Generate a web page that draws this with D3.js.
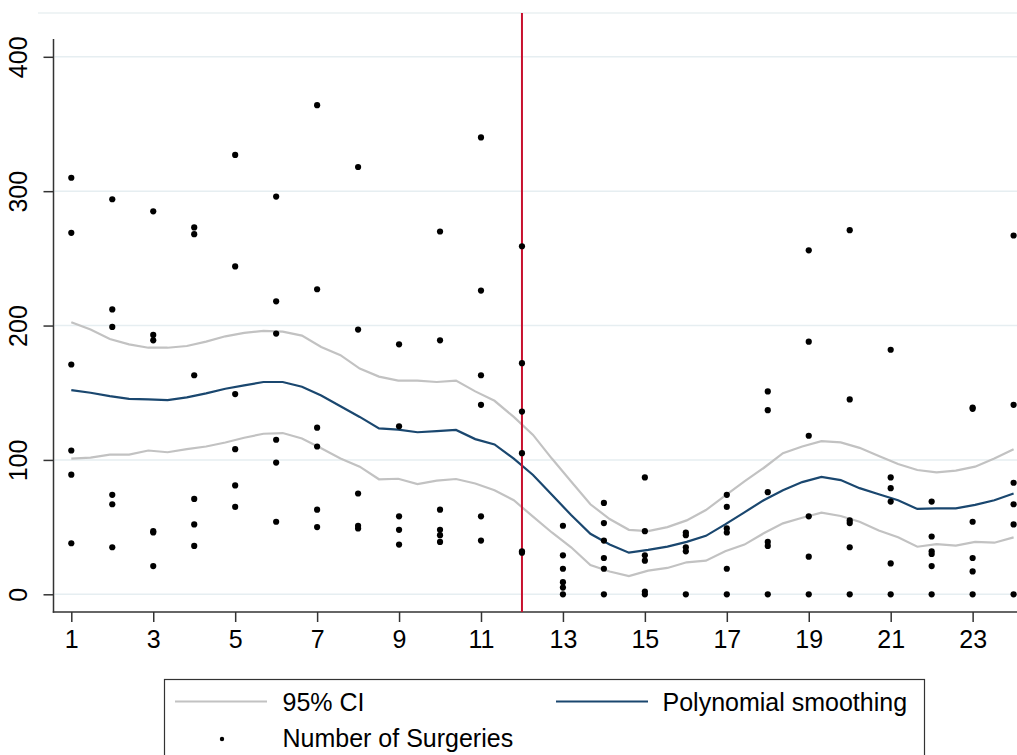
<!DOCTYPE html>
<html lang="en">
  <head>
    <meta charset="UTF-8" />
    <script src="https://d3js.org/d3.v7.min.js"></script>
    <style>
      body { margin: 0; background: #fff; }
      text { font-family: "Liberation Sans", Arial, sans-serif; fill: #000; }
    </style>
  </head>
  <body>
    <svg id="chart" width="1017" height="755"></svg>
    <script>
      // hours on the x axis and the observed counts at each of them
      const hours = [1, 2, 3, 4, 5, 6, 7, 8, 9, 10, 11, 12, 13, 14, 15, 16, 17, 18, 19, 20, 21, 22, 23, 24];
      const surgeries = [
        [310, 269, 171, 107, 89, 38],
        [294, 212, 199, 74, 67, 35],
        [285, 193, 189, 47, 46, 21],
        [273, 268, 163, 71, 52, 36],
        [327, 244, 149, 108, 81, 65],
        [296, 218, 194, 115, 98, 54],
        [364, 227, 124, 110, 63, 50],
        [318, 197, 75, 51, 49],
        [186, 125, 58, 48, 37],
        [270, 189, 63, 48, 44, 39],
        [340, 226, 163, 141, 58, 40],
        [259, 172, 136, 105, 32, 31],
        [51, 29, 19, 9, 5, 0],
        [68, 53, 40, 27, 19, 0],
        [87, 47, 29, 25, 2, 0],
        [46, 44, 35, 32, 0],
        [74, 65, 49, 46, 19, 0],
        [151, 137, 76, 39, 36, 0],
        [256, 188, 118, 58, 28, 0],
        [271, 145, 55, 53, 35, 0],
        [182, 87, 79, 69, 23, 0],
        [69, 43, 32, 30, 21, 0],
        [139, 138, 54, 27, 17, 0],
        [267, 141, 83, 67, 52, 0]
      ];

      // evaluation grid of the smoother and its fit / confidence band
      const gridX = [1.00, 1.47, 1.94, 2.41, 2.88, 3.35, 3.82, 4.29, 4.76, 5.22,
        5.69, 6.16, 6.63, 7.10, 7.57, 8.04, 8.51, 8.98, 9.45, 9.92,
        10.39, 10.86, 11.33, 11.80, 12.27, 12.73, 13.20, 13.67, 14.14, 14.61,
        15.08, 15.55, 16.02, 16.49, 16.96, 17.43, 17.90, 18.37, 18.84, 19.31,
        19.78, 20.24, 20.71, 21.18, 21.65, 22.12, 22.59, 23.06, 23.53, 24.00];
      const smooth = [152, 150, 147.5, 145.5, 145, 144.5, 146.5, 149.5, 153, 155.5,
        158, 158, 154.5, 148, 140, 132, 123.5, 122.5, 120.6, 121.5,
        122.3, 115.5, 111.5, 101, 88.8, 74, 59, 45, 37, 31,
        33, 35.5, 39, 43.5, 52, 61, 70, 77.5, 83.5, 87.3,
        85, 79, 74.5, 70, 63.5, 64, 64, 66.5, 70, 75];
      const ciUpper = [202.5, 197, 190, 186, 183.5, 183.5, 184.8, 188, 192, 194.5,
        196, 195.5, 192.5, 184, 178, 168, 162, 159, 159, 158,
        159, 151, 144, 132, 118.6, 101, 84, 67, 56, 48,
        47, 50, 55, 62.7, 73.5, 84, 94, 105, 110, 114,
        113, 109, 103, 97, 92.5, 90.8, 92, 95, 101, 108];
      const ciLower = [101, 101.7, 104, 104, 107, 105.7, 108, 110, 113, 116.5,
        119.5, 120, 116, 108.7, 101, 95, 85.6, 86, 82, 84.6,
        85.8, 82.5, 77.5, 70, 57.8, 46, 35, 21.8, 17, 13.6,
        17.6, 19.6, 23.8, 25, 32, 37, 45.4, 52.8, 57, 60.7,
        58.3, 54, 47.5, 42.4, 35.4, 37.4, 36.2, 39, 38.4, 42.4];

      const xTicks = [1, 3, 5, 7, 9, 11, 13, 15, 17, 19, 21, 23];
      const yTicks = [0, 100, 200, 300, 400];
      const cutoff = 12;

      const svg = d3.select("#chart");
      const width = +svg.attr("width");

      const x = d3.scaleLinear().domain([1, 24]).range([71.3, 1013.6]);
      const y = d3.scaleLinear().domain([0, 400]).range([594.3, 56.8]);

      const axisX = 53.5, axisY = 612;

      // faint top border of the plot region
      svg.append("line")
        .attr("x1", 38).attr("x2", width)
        .attr("y1", 13).attr("y2", 13)
        .attr("stroke", "#eaf0f2").attr("stroke-width", 1.5);

      // gridlines
      svg.append("g")
        .selectAll("line")
        .data(yTicks)
        .join("line")
        .attr("x1", axisX + 1).attr("x2", width)
        .attr("y1", d => y(d)).attr("y2", d => y(d))
        .attr("stroke", "#e6eef1").attr("stroke-width", 1.6);

      // y axis
      const yAxis = svg.append("g")
        .attr("transform", `translate(${axisX},0)`)
        .call(d3.axisLeft(y).tickValues(yTicks).tickSize(10).tickPadding(0).tickFormat(d3.format("d")));
      yAxis.select(".domain").remove();
      yAxis.selectAll(".tick line").attr("stroke", "#333").attr("stroke-width", 1.5);
      yAxis.selectAll(".tick text")
        .attr("font-size", 25)
        .attr("text-anchor", "middle")
        .attr("transform", "translate(-21.5,0) rotate(-90)")
        .attr("x", 0).attr("y", 0).attr("dy", "-0.2em");
      svg.append("line")
        .attr("x1", axisX).attr("x2", axisX)
        .attr("y1", 39).attr("y2", axisY + 0.75)
        .attr("stroke", "#333").attr("stroke-width", 1.5);

      // x axis
      const xAxis = svg.append("g")
        .attr("transform", `translate(0,${axisY})`)
        .call(d3.axisBottom(x).tickValues(xTicks).tickSize(10).tickPadding(8).tickFormat(d3.format("d")));
      xAxis.select(".domain").remove();
      xAxis.selectAll(".tick line").attr("stroke", "#333").attr("stroke-width", 1.5);
      xAxis.selectAll(".tick text").attr("font-size", 25).attr("dy", "0.71em");
      svg.append("line")
        .attr("x1", axisX - 0.75).attr("x2", width)
        .attr("y1", axisY).attr("y2", axisY)
        .attr("stroke", "#333").attr("stroke-width", 1.5);

      // confidence band and smoother
      const line = d3.line().x((d, i) => x(gridX[i])).y(d => y(d));
      svg.append("path").datum(ciUpper)
        .attr("d", line).attr("fill", "none")
        .attr("stroke", "#c2c2c2").attr("stroke-width", 2.2);
      svg.append("path").datum(ciLower)
        .attr("d", line).attr("fill", "none")
        .attr("stroke", "#c2c2c2").attr("stroke-width", 2.2);
      svg.append("path").datum(smooth)
        .attr("d", line).attr("fill", "none")
        .attr("stroke", "#1a476f").attr("stroke-width", 2.2);

      // cutoff line
      svg.append("line")
        .attr("x1", x(cutoff)).attr("x2", x(cutoff))
        .attr("y1", 13).attr("y2", axisY)
        .attr("stroke", "#c8102e").attr("stroke-width", 2);

      // points
      const pts = hours.flatMap((h, i) => surgeries[i].map(v => ({ h, v })));
      svg.append("g")
        .selectAll("circle")
        .data(pts)
        .join("circle")
        .attr("cx", d => x(d.h)).attr("cy", d => y(d.v))
        .attr("r", 3.1).attr("fill", "#000");

      // legend
      const lg = svg.append("g");
      lg.append("rect")
        .attr("x", 164.5).attr("y", 679.5)
        .attr("width", 760).attr("height", 90)
        .attr("fill", "#fff").attr("stroke", "#333").attr("stroke-width", 1.2);
      const items = [
        { label: "95% CI", kind: "line", color: "#c2c2c2", x0: 175, tx: 282.5, cy: 701.5 },
        { label: "Polynomial smoothing", kind: "line", color: "#1a476f", x0: 556, tx: 662.5, cy: 701.5 },
        { label: "Number of Surgeries", kind: "dot", color: "#000", x0: 175, tx: 282.5, cy: 737 }
      ];
      items.forEach(it => {
        if (it.kind === "line") {
          lg.append("line")
            .attr("x1", it.x0).attr("x2", it.x0 + 92)
            .attr("y1", it.cy).attr("y2", it.cy)
            .attr("stroke", it.color).attr("stroke-width", 2.2);
        } else {
          lg.append("circle")
            .attr("cx", it.x0 + 47).attr("cy", it.cy + 2)
            .attr("r", 2.2).attr("fill", it.color);
        }
        lg.append("text")
          .attr("x", it.tx).attr("y", it.cy + 9.5)
          .attr("font-size", 25)
          .text(it.label);
      });
    </script>
  </body>
</html>
